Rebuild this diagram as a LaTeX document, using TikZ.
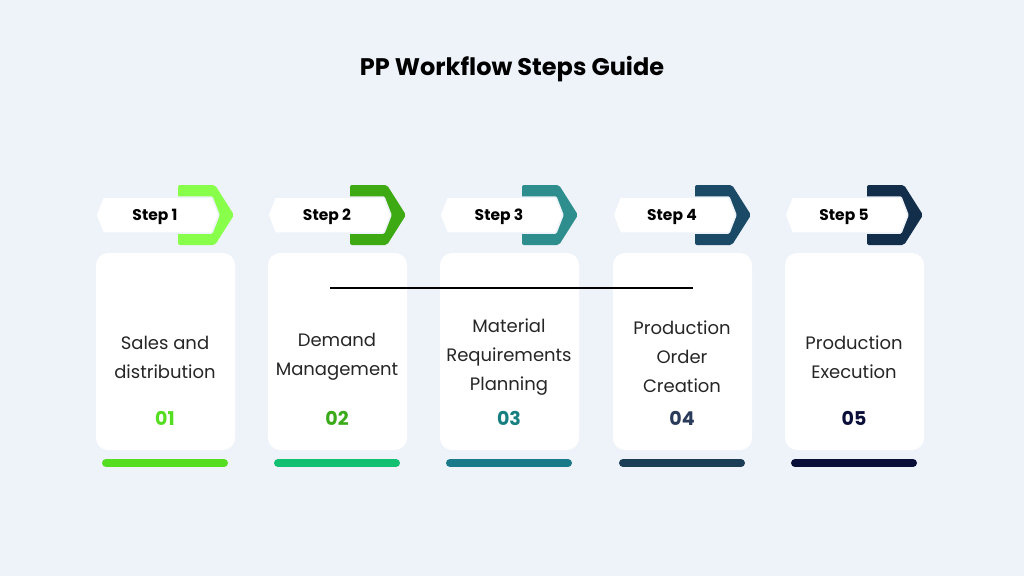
\documentclass[tikz,border=0pt]{standalone}
\usepackage{fontspec}
\setmainfont{Poppins}
\begin{document}
\begin{tikzpicture}[x=1pt,y=-1pt,
  card/.style={fill=white,rounded corners=12pt},
  bar/.style={line width=8pt,line cap=round},
  lbl/.style={font=\fontsize{18}{29}\selectfont,align=center,text=black!85},
  num/.style={font=\fontsize{19}{22}\selectfont\bfseries},
  steplbl/.style={font=\fontsize{15.5}{18}\selectfont\bfseries}]
\definecolor{bg}{HTML}{EEF2F9}
\fill[bg] (0,0) rectangle (1024,576);
\node[font=\fontsize{24}{28}\selectfont\bfseries] (title) at (512,69) {PP Workflow Steps Guide};
\def\items{165/88FF4A/55DD22/55DD22/{Sales and\\distribution}/01/1,
337/3DAA14/11C070/3AAA1A/{Demand\\Management}/02/2,
509/2E8E8E/1A7A8A/168080/{Material\\Requirements\\Planning}/03/3,
682/1A4A66/1B3D55/2A3A5A/{Production\\Order\\Creation}/04/4,
854/132E4A/0A0F3A/0A0F3A/{Production\\Execution}/05/5}
\foreach \c/\ca/\cb/\cn/\t/\n/\k in \items {
  \definecolor{ca}{HTML}{\ca}\definecolor{cb}{HTML}{\cb}\definecolor{cn}{HTML}{\cn}
  \fill[card] (\c-69,253) rectangle (\c+70,450);
  \fill[ca,rounded corners=2pt] (\c+13,185) -- (\c+50,185) -- (\c+69,215) -- (\c+50,245) -- (\c+13,245) -- cycle;
  \fill[white,draw=bg,line width=1.5pt,rounded corners=1pt] (\c-69,215) -- (\c-62,197) -- (\c+47,197) -- (\c+54,215) -- (\c+47,233) -- (\c-62,233) -- cycle;
  \node[steplbl] (s\k) at (\c-10,217) {Step \k};
  \node[lbl] (t\k) at (\c,357) {\t};
  \node[num,text=cn] (n\k) at (\c,418) {\n};
  \draw[bar,cb] (\c-59,463) -- (\c+59,463);
}
\coordinate (la) at (330,288); \coordinate (lb) at (693,288);
\draw[line width=1.5pt] (la) -- (lb);
\end{tikzpicture}
\end{document}
